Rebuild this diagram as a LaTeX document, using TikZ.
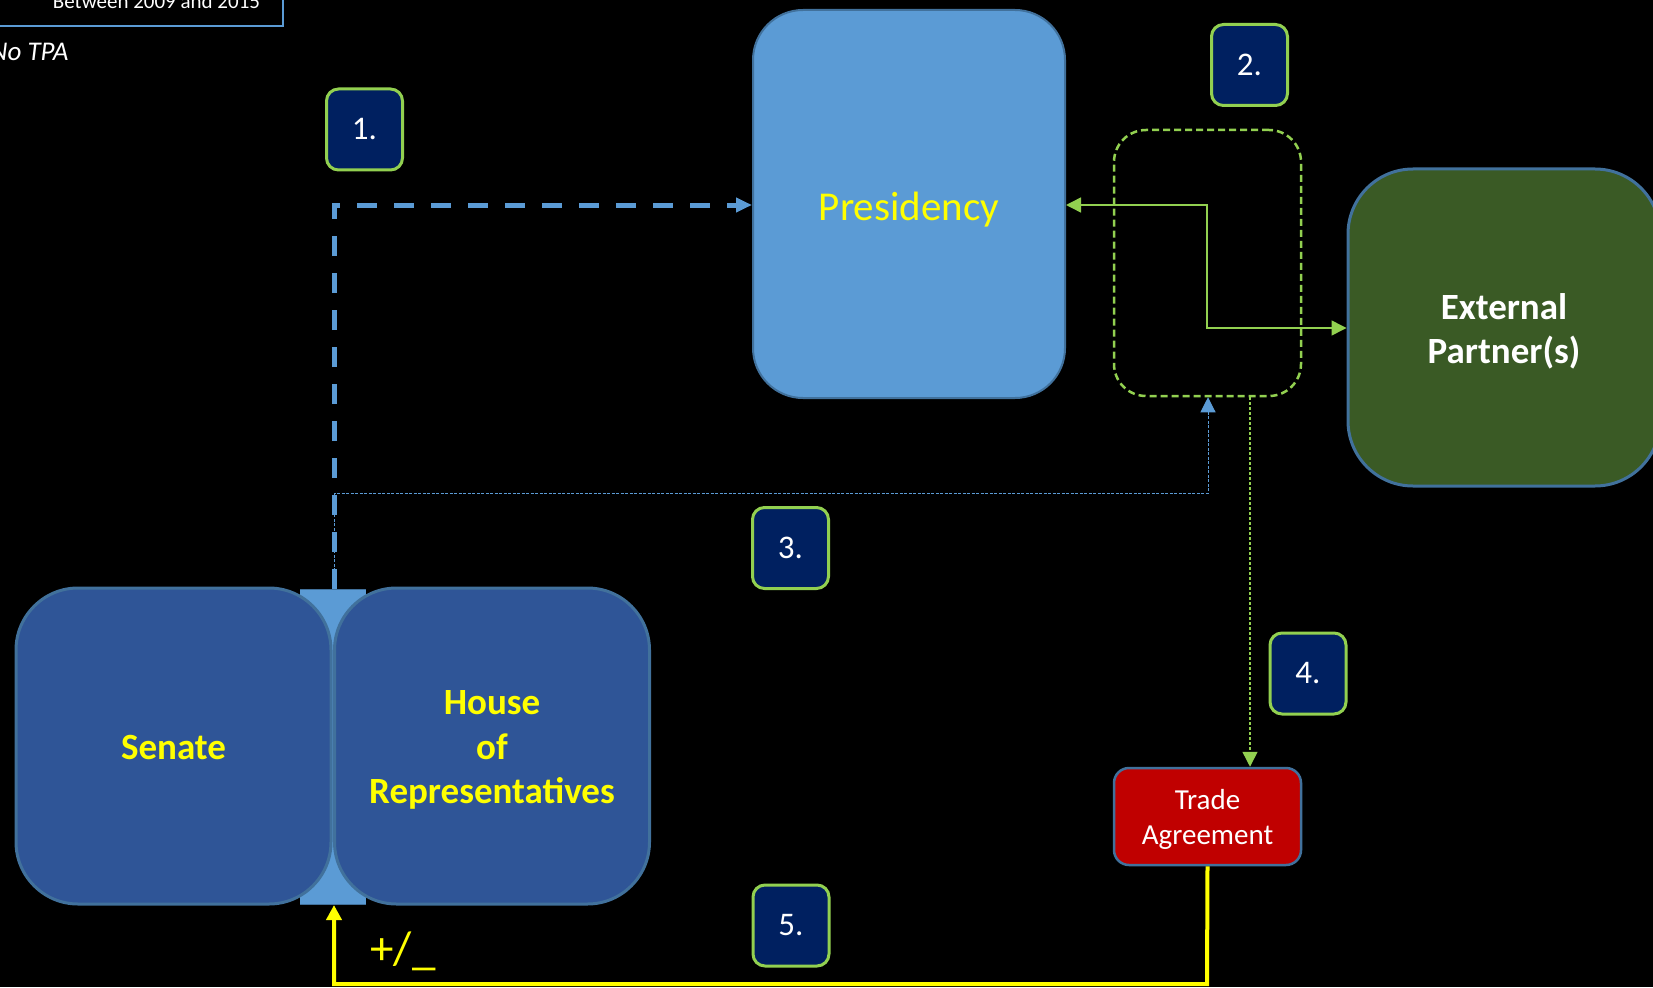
\documentclass[tikz,border=0pt]{standalone}
\usepackage{fontspec}
\setmainfont{Carlito}
\usetikzlibrary{arrows.meta}
\definecolor{presblue}{HTML}{5B9BD5}
\definecolor{edgeblue}{HTML}{41719C}
\definecolor{congblue}{HTML}{2F5597}
\definecolor{navyfill}{HTML}{002060}
\definecolor{lgreen}{HTML}{92D050}
\definecolor{dgreen}{HTML}{3A5A25}
\definecolor{tred}{HTML}{C00000}
\definecolor{yel}{HTML}{FFFF00}
\begin{document}
\begin{tikzpicture}[x=1pt,y=-1pt,
  numbox/.style={draw=lgreen, line width=3pt, fill=navyfill, rounded corners=12pt,
    minimum width=76pt, minimum height=81pt, inner sep=0pt, text=white,
    font=\fontsize{33}{38}\selectfont},
  congbox/.style={draw=edgeblue, line width=3pt, fill=congblue, rounded corners=62pt,
    minimum width=315pt, minimum height=316pt, inner sep=0pt},
  congtext/.style={inner sep=0pt, text=yel, align=center,
    font=\bfseries\fontsize{37}{44.5}\selectfont}
]
\useasboundingbox (0,0) rectangle (1653,987);
\fill[black] (0,0) rectangle (1653,987);

% top-left legend box
\draw[presblue, line width=2pt] (-10,-60) rectangle (283,26);
\node[anchor=base, text=white, inner sep=0pt, font=\fontsize{21}{25}\selectfont] (legend) at (156.5,9) {Between 2009 and 2015};
\node[anchor=base west, text=white, inner sep=0pt, font=\itshape\fontsize{27}{32}\selectfont] (notpa) at (-10,61) {No TPA};

% joint behind the two chambers
\fill[presblue] (300,589) rectangle (366,904);
\draw[edgeblue, line width=1pt] (300,589) -- (366,589) (300,904) -- (366,904);

% main nodes
\node[draw=edgeblue, line width=2pt, fill=presblue, rounded corners=50pt,
  minimum width=312pt, minimum height=388pt, inner sep=0pt] (pres) at (909,204) {};
\node[inner sep=0pt, text=yel, font=\fontsize{41}{49}\selectfont] (prestext)
  at ([yshift=-5.5pt]pres.center) {Presidency};

\node[congbox] (senate) at (173.5,746) {};
\node[congtext] (senatetext) at ([yshift=-1pt]senate.center) {Senate};
\node[congbox] (house) at (492,746) {};
\node[congtext] (housetext) at ([yshift=-4pt]house.center) {House\\of\\Representatives};

\node[draw=edgeblue, line width=3pt, fill=dgreen, rounded corners=65pt,
  minimum width=312pt, minimum height=317pt, inner sep=0pt] (ext) at (1504,327.5) {};
\node[inner sep=0pt, text=white, align=center, font=\bfseries\fontsize{37}{44}\selectfont]
  (exttext) at ([yshift=-4pt]ext.center) {External\\Partner(s)};

\node[draw=lgreen, line width=2.5pt, dash pattern=on 7pt off 4pt, rounded corners=32pt,
  minimum width=187pt, minimum height=266pt, inner sep=0pt] (dbox) at (1207.5,263) {};

\node[draw=edgeblue, line width=2.5pt, fill=tred, rounded corners=15pt,
  minimum width=187pt, minimum height=97pt, inner sep=0pt] (trade) at (1207.5,816.5) {};
\node[inner sep=0pt, text=white, align=center, font=\fontsize{29}{35}\selectfont]
  (tradetext) at ([yshift=-3pt]trade.center) {Trade\\Agreement};

% number boxes
\node[numbox] (n1) at (364.5,129.5) {1.};
\node[numbox] (n2) at (1249.5,65) {2.};
\node[numbox] (n3) at (790.5,548) {3.};
\node[numbox] (n4) at (1308,673.5) {4.};
\node[numbox] (n5) at (791,925.5) {5.};

% coordinates
\coordinate (jtop) at (334,589);
\coordinate (jbot) at (334,905);
\coordinate (c1) at (334,205);
\coordinate (t1) at (334,493);
\coordinate (t2) at (1208,493);
\coordinate (g1) at (1207,205);
\coordinate (g2) at (1207,328);
\coordinate (d1) at (1250,397);
\coordinate (y1) at (1207,984);
\coordinate (y2) at (334,984);

% 1. thick dashed to presidency
\draw[presblue, line width=5pt, dash pattern=on 20pt off 17pt,
  -{Triangle[length=16pt,width=14pt]}] (jtop) -- (c1) -- (c1 -| pres.west);

% 3. thin dashed to negotiation box
\draw[presblue, line width=1pt, dash pattern=on 3pt off 1.5pt,
  -{Triangle[length=15pt,width=15pt]}] (jtop) -- (t1) -- (t2) -- (t2 |- dbox.south);

% 2. negotiation arrows
\draw[lgreen, line width=1.5pt, {Triangle[length=15pt,width=15pt]}-{Triangle[length=15pt,width=15pt]}]
  (g1 -| pres.east) -- (g1) -- (g2) -- (g2 -| ext.west);

% 4. dotted to trade agreement
\draw[lgreen, line width=1.5pt, dash pattern=on 3pt off 2pt,
  -{Triangle[length=15pt,width=15pt]}] (d1) -- (d1 |- trade.north);

% 5. yellow return
\draw[yel, line width=4pt, -{Triangle[length=15pt,width=15pt]}]
  (trade.south) -- (y1) -- (y2) -- (jbot);
\node[text=yel, inner sep=0pt, font=\fontsize{47}{54}\selectfont] (pm) at (403,951) {+/\_};
\end{tikzpicture}
\end{document}
